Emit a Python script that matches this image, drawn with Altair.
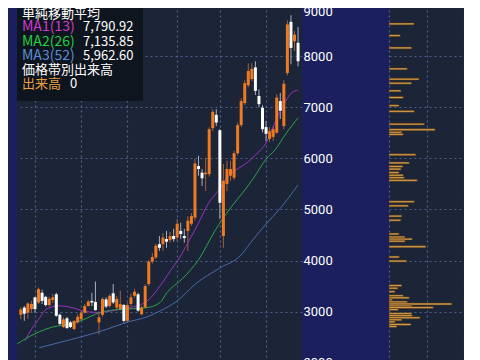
import altair as alt
import pandas as pd

# ---------------- data ----------------
opens = [2940, 3080, 2980, 3050, 3280, 3180, 3370, 3290, 3130, 3230,
         3340, 2940, 2700, 2870, 2790, 2660, 2790, 2850, 2980, 3110,
         3210, 3190, 2790, 2940, 3240, 3110, 3360, 3080, 3050, 3130,
         2820, 3150, 3310, 3340, 2950, 3080, 3540, 3980, 4060, 4320,
         4320, 4420, 4400, 4480, 4450, 4580, 4480, 4580, 4720, 4840,
         5850, 5720, 5690, 5690, 6590, 6850, 6550, 4480, 5500, 5660,
         5620, 6100, 6650, 7080, 7430, 7550, 7780, 7220, 6990, 6610,
         6380, 6420, 6500, 7120, 6630, 7670, 8670, 8290, 8260]
highs = [3080, 3110, 3180, 3210, 3290, 3470, 3430, 3310, 3290, 3350,
         3370, 2960, 2890, 2900, 2820, 2830, 2950, 3020, 3150, 3230,
         3370, 3590, 2980, 3280, 3280, 3340, 3540, 3310, 3410, 3150,
         3170, 3350, 3450, 3370, 3110, 3540, 4010, 4150, 4330, 4480,
         4540, 4580, 4560, 4620, 4810, 4740, 4620, 4870, 4930, 5990,
         6050, 5790, 6010, 6610, 6960, 6960, 6570, 5890, 5950, 5950,
         6150, 6700, 7180, 7530, 7860, 7860, 7900, 7350, 7040, 6730,
         6610, 6630, 7260, 7280, 7530, 8700, 8800, 8490, 8570]
lows = [2850, 2820, 2860, 2980, 2980, 3150, 3150, 3100, 3100, 3170,
        2900, 2720, 2680, 2660, 2680, 2640, 2770, 2840, 2960, 3100,
        3110, 3020, 2560, 2900, 3070, 3080, 3150, 3050, 3020, 2790,
        2780, 3110, 3270, 3000, 2930, 3060, 3500, 3940, 4030, 4190,
        4190, 4250, 4350, 4370, 4380, 4420, 4350, 4190, 4680, 4780,
        5660, 5460, 5360, 5640, 6530, 6630, 4810, 4250, 5360, 5560,
        5580, 6060, 6610, 7040, 7390, 7510, 7240, 7000, 6510, 6340,
        6320, 6340, 6480, 6770, 6570, 7620, 7840, 8100, 7800]
closes = [3040, 2960, 3160, 3150, 3050, 3440, 3210, 3130, 3250, 3280,
          2920, 2760, 2850, 2680, 2700, 2820, 2900, 2980, 3110, 3200,
          3180, 3030, 2890, 3250, 3100, 3310, 3180, 3250, 3150, 2820,
          3130, 3280, 3390, 3020, 3080, 3500, 3980, 4070, 4290, 4250,
          4450, 4370, 4480, 4420, 4720, 4520, 4440, 4780, 4870, 5900,
          5790, 5610, 5720, 6570, 6910, 6700, 5130, 5560, 5790, 5790,
          6100, 6650, 7120, 7470, 7710, 7750, 7320, 7060, 6570, 6480,
          6530, 6570, 7190, 6930, 7460, 8620, 8160, 8420, 7900]

ma1_weeks = [1.2, 3.1, 4.7, 7.4, 10.7, 14.7, 17.5, 21.5, 25.6, 29.9, 33.7, 36.5, 39.2, 41.9,
             44.6, 47.3, 50.0, 52.7, 55.5, 58.2, 60.9, 63.6, 66.3, 69.0, 71.7, 74.5, 76.1, 78.0]
ma1_vals = [2430, 2665, 2820, 3055, 3115, 3075, 3015, 2985, 3015, 3075, 3135, 3270, 3505, 3780,
            4050, 4385, 4735, 5110, 5360, 5635, 5790, 5910, 6085, 6300, 6730, 7120, 7275, 7335]
ma2_weeks = [-1.0, 3.9, 9.3, 13.9, 17.5, 22.1, 26.4, 31.8, 35.6, 39.2, 41.1, 45.4, 50.0, 54.6,
             59.0, 62.8, 65.5, 69.0, 71.7, 74.5, 78.0]
ma2_vals = [2370, 2565, 2705, 2760, 2840, 2980, 3035, 3060, 3080, 3180, 3370, 3640, 4015, 4580,
            5030, 5360, 5615, 5985, 6180, 6475, 6790]
ma3_weeks = [5.2, 13.9, 22.9, 30.2, 35.6, 39.2, 43.8, 49.2, 56.0, 61.7, 65.5, 69.0, 72.6, 78.0]
ma3_vals = [2295, 2450, 2625, 2800, 2900, 3015, 3200, 3545, 3855, 4090, 4425, 4715, 4990, 5480]

price_ticks = [2000, 3000, 4000, 5000, 6000, 7000, 8000, 9000]
grid_weeks = [4, 17, 30, 44, 56, 69]

vp_price = [8630, 8400, 8160, 7750, 7550, 7470, 7320, 7190, 7030, 6920, 6670, 6560, 6510, 6470,
            6070, 5910, 5840, 5790, 5720, 5670, 5620, 5570, 5150, 5070, 4870, 4790, 4520, 4460,
            4420, 4380, 4270, 4070, 3990, 3510, 3460, 3390, 3310, 3270, 3230, 3190, 3150, 3110,
            3080, 3040, 2960, 2920, 2880, 2840, 2800, 2750, 2710]
vp_volume = [100, 45, 90, 73, 120, 90, 48, 57, 40, 101, 141, 184, 51, 57,
             107, 81, 55, 48, 40, 57, 61, 113, 101, 77, 51, 47, 40, 64,
             93, 64, 147, 41, 71, 51, 35, 24, 57, 81, 13, 73, 251, 91,
             177, 37, 91, 93, 124, 51, 24, 88, 31]

legend_title = "単純移動平均"
ma_names = ["MA1(13)", "MA2(26)", "MA3(52)"]
ma_values = ["7,790.92", "7,135.85", "5,962.60"]
vp_title = "価格帯別出来高"
vol_label = "出来高"
vol_value = "0"

# ---------------- styles ----------------
NAVY = "#1b1f5e"
PANEL = "#1b2537"
GRID = "#4e6189"
UP = "#f07a22"
DOWN = "#ffffff"
WICK_UP = "#a0603a"
WICK_DN = "#a9b1c2"
MA_COLORS = ["#9a30c2", "#2ea24a", "#4a6aa6"]
MA_TEXT = ["#d23ad2", "#22d046", "#5c8fd6"]
VOL_COLOR = "#e8a040"
JP = "Noto Sans CJK JP"

Y_DOMAIN = [1800, 9000]
X_DOMAIN = [0.35, 77.7]
H = 368

candles = pd.DataFrame({"week": list(range(len(opens))), "open": opens, "high": highs,
                        "low": lows, "close": closes})
ma_df = pd.concat([
    pd.DataFrame({"week": ma1_weeks, "value": ma1_vals, "series": "MA1"}),
    pd.DataFrame({"week": ma2_weeks, "value": ma2_vals, "series": "MA2"}),
    pd.DataFrame({"week": ma3_weeks, "value": ma3_vals, "series": "MA3"}),
])
vp = pd.DataFrame({"price": vp_price, "volume": vp_volume})
vp["lo"] = vp["price"] - 18
vp["hi"] = vp["price"] + 18
vp["zero"] = 0

xs = alt.Scale(domain=X_DOMAIN, nice=False, zero=False)
ys = alt.Scale(domain=Y_DOMAIN, nice=False, zero=False)

grid_kw = dict(grid=True, gridDash=[2, 3], gridColor=GRID, gridWidth=1.2,
               ticks=False, domain=False, title=None)
x_axis = alt.Axis(values=grid_weeks, labels=False, **grid_kw)
y_axis = alt.Axis(orient="right", values=price_ticks, labelColor="white", labelFont="Roboto",
                  labelFontSize=13, labelPadding=1, labelFlush=True, format="d",
                  minExtent=30, maxExtent=30, **grid_kw)

up_cond = "datum.close >= datum.open"

wicks = alt.Chart(candles).mark_rule(strokeWidth=1).encode(
    x=alt.X("week:Q", scale=xs, axis=x_axis),
    y=alt.Y("low:Q", scale=ys, axis=y_axis),
    y2="high:Q",
    color=alt.condition(up_cond, alt.value(WICK_UP), alt.value(WICK_DN)),
)
bodies = alt.Chart(candles).mark_bar(size=3).encode(
    x=alt.X("week:Q", scale=xs),
    y=alt.Y("open:Q", scale=ys),
    y2="close:Q",
    color=alt.condition(up_cond, alt.value(UP), alt.value(DOWN)),
)
ma_lines = alt.Chart(ma_df).mark_line(strokeWidth=1, interpolate="monotone").encode(
    x=alt.X("week:Q", scale=xs),
    y=alt.Y("value:Q", scale=ys),
    color=alt.Color("series:N", scale=alt.Scale(domain=["MA1", "MA2", "MA3"], range=MA_COLORS),
                    legend=None),
)

one = pd.DataFrame({"a": [0]})
legend_box = alt.Chart(one).mark_rect(fill="#0e131c", opacity=0.92).encode(
    x=alt.value(0), x2=alt.value(126), y=alt.value(0), y2=alt.value(96))


def label(text, x, y, color, size=13):
    return alt.Chart(one).mark_text(align="left", baseline="middle", font=JP, fontSize=size,
                                    color=color).encode(
        x=alt.value(x), y=alt.value(y), text=alt.value(text))


line_y = [8.7, 22.3, 37, 50.5, 65, 78.5]
texts = [label(legend_title, 5, line_y[0], "white")]
for k in range(3):
    texts.append(label(ma_names[k], 5, line_y[k + 1], MA_TEXT[k], 14))
    texts.append(label(ma_values[k], 66, line_y[k + 1], "white"))
texts.append(label(vp_title, 5, line_y[4], "white"))
texts.append(label(vol_label, 5, line_y[5], VOL_COLOR))
texts.append(label(vol_value, 53, line_y[5], "white"))

main = alt.layer(wicks, ma_lines, bodies, legend_box, *texts).properties(width=285, height=H)

hist = alt.Chart(vp).mark_rect(fill="#e6a64e", stroke="#4a3418", strokeWidth=0.6).encode(
    x=alt.X("zero:Q", scale=alt.Scale(domain=[0, 300], nice=False),
            axis=alt.Axis(values=[0, 150, 300], labels=False, **grid_kw)),
    x2="volume:Q",
    y=alt.Y("lo:Q", scale=ys, axis=alt.Axis(values=price_ticks, labels=False,
                                            minExtent=0, maxExtent=0, **grid_kw)),
    y2="hi:Q",
).properties(width=75, height=H)

css = "html,body{margin:0;padding:0;overflow:hidden;background:%s}" % NAVY

chart = alt.hconcat(main, hist, spacing=55).properties(
    background=NAVY,
    padding={"left": 7, "top": -3, "right": 0, "bottom": 0},
    usermeta={"embedOptions": {"defaultStyle": css}},
).configure_view(fill=PANEL, stroke=None)

chart.save("out.html", embed_options={"renderer": "svg", "actions": False})
